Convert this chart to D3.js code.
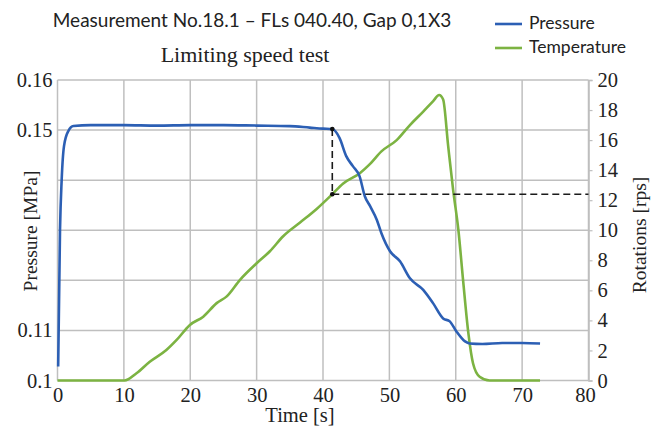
<!DOCTYPE html>
<html>
<head>
<meta charset="utf-8">
<script src="https://cdn.jsdelivr.net/npm/d3@7"></script>
<style>
  html, body { margin: 0; padding: 0; background: #fff; }
  svg { display: block; }
</style>
</head>
<body>
<svg id="chart" width="662" height="432"></svg>
<script>
// ---- data ----
const pressureTime = [0.1, 0.38, 0.63, 0.98, 1.63, 2.4, 5, 10, 15, 20, 25, 30, 35, 38, 40, 41.4, 42.5, 43.5, 44.5, 45.5, 46.3, 47.1, 48.1, 48.8, 50.1, 51.6, 53.1, 55.1, 56.6, 58.1, 59.1, 60.1, 61.4, 62.1, 64, 67, 70, 72.7];
const pressure     = [0.1028, 0.1301, 0.1401, 0.1468, 0.1498, 0.1508, 0.1510, 0.1510, 0.1509, 0.1510, 0.1510, 0.1509, 0.1508, 0.1505, 0.1503, 0.1502, 0.1484, 0.1448, 0.1428, 0.1408, 0.1368, 0.1348, 0.1321, 0.1294, 0.1258, 0.1238, 0.1204, 0.1181, 0.1154, 0.1124, 0.1118, 0.1098, 0.1078, 0.1074, 0.1073, 0.1075, 0.1075, 0.1074];

const tempTime = [0, 5, 10.1, 11.9, 13.9, 16.4, 17.95, 19.95, 21.96, 23.98, 25.5, 27.5, 30, 32, 34, 36.5, 39, 41.4, 43, 45.55, 47.06, 48.8, 51.1, 53.1, 55.1, 56.6, 57.5, 58.1, 58.86, 59.6, 60.4, 61.1, 61.9, 62.6, 63.6, 65.1, 70, 72.7];
const temperature = [0, 0, 0, 0.48, 1.25, 2.03, 2.7, 3.7, 4.25, 5.15, 5.6, 6.7, 7.8, 8.6, 9.6, 10.5, 11.4, 12.4, 13.1, 13.8, 14.4, 15.25, 16.0, 17.0, 17.9, 18.6, 19.0, 18.7, 15.6, 12.7, 10.0, 6.7, 3.15, 1.15, 0.25, 0, 0, 0];

const xTicks = [0, 10, 20, 30, 40, 50, 60, 70, 80];
const leftGrid = [0.10, 0.11, 0.12, 0.13, 0.14, 0.15, 0.16];
const leftLabels = [0.10, 0.11, 0.15, 0.16];
const leftLabelText = ["0.1", "0.11", "0.15", "0.16"];
const rightTicks = [0, 2, 4, 6, 8, 10, 12, 14, 16, 18, 20];

const markerTime = 41.4;
const markerPressure = 0.1502;
const markerRotation = 12.4;

const titleText = "Measurement No.18.1 – FLs 040.40, Gap 0,1X3";
const subtitleText = "Limiting speed test";
const seriesNames = ["Pressure", "Temperature"];
const colors = ["#2c5fb4", "#7cb342"];

// ---- scales ----
const svg = d3.select("#chart");
const x = d3.scaleLinear().domain([0, 80]).range([57.5, 588.5]);
const yL = d3.scaleLinear().domain([0.1, 0.16]).range([380.5, 80]);
const yR = d3.scaleLinear().domain([0, 20]).range([380.5, 80]);

const gridColor = "#bfbfbf";
const serif = "'Liberation Serif', 'Times New Roman', serif";
const sans = "Lato, 'Open Sans', sans-serif";
const tickFont = 20.5;

// grid
const g = svg.append("g");
g.selectAll(".hg").data(leftGrid).enter().append("line")
  .attr("x1", x(0)).attr("x2", x(80))
  .attr("y1", d => yL(d)).attr("y2", d => yL(d))
  .attr("stroke", gridColor).attr("stroke-width", 1.5);
g.selectAll(".vg").data(xTicks).enter().append("line")
  .attr("x1", d => x(d)).attr("x2", d => x(d))
  .attr("y1", yL(0.1)).attr("y2", yL(0.16))
  .attr("stroke", gridColor).attr("stroke-width", 1.5);

// bottom axis
const xAxis = svg.append("g").attr("transform", `translate(0,${yL(0.1)})`)
  .call(d3.axisBottom(x).tickValues(xTicks).tickSize(0).tickPadding(7));
xAxis.select(".domain").remove();
xAxis.selectAll("text").attr("font-family", serif).attr("font-size", tickFont).attr("fill", "#222")
  .attr("dx", d => d === 80 ? -3.5 : 0);

// left axis
const yAxisL = svg.append("g").attr("transform", `translate(${x(0)},0)`)
  .call(d3.axisLeft(yL).tickValues(leftLabels).tickFormat((d, i) => leftLabelText[i]).tickSize(0).tickPadding(5));
yAxisL.select(".domain").remove();
yAxisL.selectAll("text").attr("font-family", serif).attr("font-size", tickFont).attr("fill", "#222");

// right axis
const yAxisR = svg.append("g").attr("transform", `translate(${x(80)},0)`)
  .call(d3.axisRight(yR).tickValues(rightTicks).tickSize(4).tickPadding(5));
yAxisR.select(".domain").attr("stroke", gridColor).attr("stroke-width", 1.5);
yAxisR.selectAll("line").attr("stroke", gridColor).attr("stroke-width", 1.2);
yAxisR.selectAll("text").attr("font-family", serif).attr("font-size", tickFont).attr("fill", "#222");

// lines
const lineP = d3.line().x(d => x(d[0])).y(d => yL(d[1])).curve(d3.curveMonotoneX);
const lineT = d3.line().x(d => x(d[0])).y(d => yR(d[1])).curve(d3.curveMonotoneX);

svg.append("path").datum(tempTime.map((t, i) => [t, temperature[i]]))
  .attr("d", lineT).attr("fill", "none").attr("stroke", colors[1]).attr("stroke-width", 2.6)
  .attr("stroke-linejoin", "round");
svg.append("path").datum(pressureTime.map((t, i) => [t, pressure[i]]))
  .attr("d", lineP).attr("fill", "none").attr("stroke", colors[0]).attr("stroke-width", 2.6)
  .attr("stroke-linejoin", "round");

// dashed marker lines
svg.append("line")
  .attr("x1", x(markerTime)).attr("x2", x(markerTime))
  .attr("y1", yL(markerPressure)).attr("y2", yR(markerRotation))
  .attr("stroke", "#1a1a1a").attr("stroke-width", 1.6).attr("stroke-dasharray", "7,4");
svg.append("line")
  .attr("x1", x(markerTime)).attr("x2", x(80))
  .attr("y1", yR(markerRotation)).attr("y2", yR(markerRotation))
  .attr("stroke", "#1a1a1a").attr("stroke-width", 1.6).attr("stroke-dasharray", "7,4");
svg.selectAll(".dot").data([[markerTime, yL(markerPressure)], [markerTime, yR(markerRotation)]])
  .enter().append("circle")
  .attr("cx", d => x(d[0])).attr("cy", d => d[1]).attr("r", 2.3).attr("fill", "#111");

// titles
svg.append("text").attr("x", 252).attr("y", 27).attr("text-anchor", "middle")
  .attr("font-family", sans).attr("font-size", 19).attr("fill", "#222").text(titleText);
svg.append("text").attr("x", 245).attr("y", 62).attr("text-anchor", "middle")
  .attr("font-family", serif).attr("font-size", 22).attr("fill", "#222").text(subtitleText);

// axis titles
svg.append("text").attr("x", 300).attr("y", 422).attr("text-anchor", "middle")
  .attr("font-family", serif).attr("font-size", 20.5).attr("fill", "#222").text("Time [s]");
svg.append("text").attr("transform", "translate(37,231) rotate(-90)").attr("text-anchor", "middle")
  .attr("font-family", serif).attr("font-size", 19.5).attr("fill", "#222").text("Pressure [MPa]");
svg.append("text").attr("transform", "translate(646,235) rotate(-90)").attr("text-anchor", "middle")
  .attr("font-family", serif).attr("font-size", 19.5).attr("fill", "#222").text("Rotations [rps]");

// legend
const leg = svg.append("g");
seriesNames.forEach((name, i) => {
  const yy = 24 + i * 24;
  leg.append("line").attr("x1", 495).attr("x2", 522).attr("y1", yy).attr("y2", yy)
    .attr("stroke", colors[i]).attr("stroke-width", 2.6);
  leg.append("text").attr("x", 529).attr("y", yy + 5)
    .attr("font-family", sans).attr("font-size", 17.5).attr("fill", "#222").text(name);
});
</script>
</body>
</html>
